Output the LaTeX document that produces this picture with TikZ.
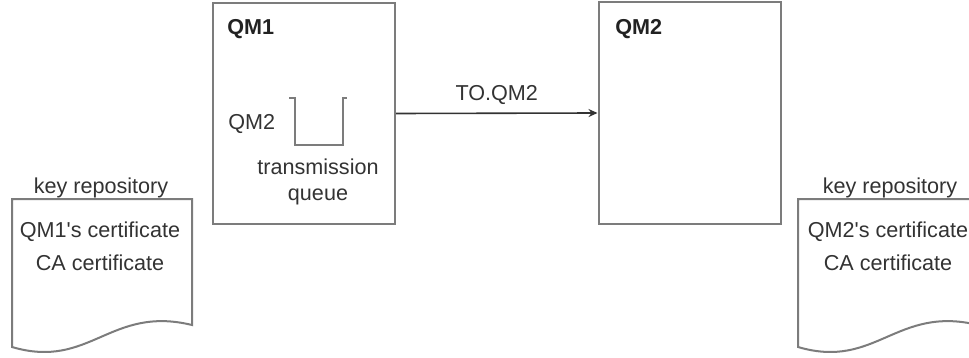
\documentclass[tikz,border=0pt]{standalone}
\usepackage{fontspec}
\setmainfont{Liberation Sans}
\usetikzlibrary{arrows.meta,positioning}
\definecolor{linegray}{HTML}{7C7C7C}
\definecolor{textgray}{HTML}{333333}
\definecolor{qmblack}{HTML}{222222}

\begin{document}
\begin{tikzpicture}[x=0.5pt, y=-0.5pt, font=\fontsize{10.8}{12.6}\selectfont,
  qmbox/.style={draw=linegray, line width=1pt, minimum width=91pt, minimum height=110.5pt, inner sep=0pt},
  lbl/.style={text=textgray, inner sep=0pt},
  keydoc/.style={draw=linegray, line width=1pt, fill=white}]
  \useasboundingbox (0,0) rectangle (969,358);

  % queue managers
  \node[qmbox] (qmone) at (304,113.5) {};
  \node[qmbox] (qmtwo) at (689.5,113) {};
  \node[lbl, text=qmblack, font=\fontsize{10.8}{12.6}\selectfont\bfseries, anchor=base west] (qmonename) at (227,35) {QM1};
  \node[lbl, text=qmblack, font=\fontsize{10.8}{12.6}\selectfont\bfseries, anchor=base west] (qmtwoname) at (615,35) {QM2};

  % transmission queue
  \draw[linegray, line width=1pt] (289,98) -- (295,98) -- (295,145) -- (343,145) -- (343,98) -- (347,98);
  \node[lbl, anchor=base west] (xmitq) at (228,130) {QM2};
  \node[lbl, anchor=base] (xmitone) at (318,175) {transmission};
  \node[lbl, anchor=base] (xmittwo) at (318,200) {queue};

  % channel
  \draw[-{Stealth[length=4.5pt, width=4pt]}, draw=textgray, fill=textgray, line width=0.8pt]
    (qmone.east) -- (qmtwo.west) node[lbl, midway, above=4pt] (chl) {TO.QM2};

  % key repositories
  \draw[keydoc] (12,347) -- (12,199) -- (192,199) -- (192,325)
    .. controls (110,305) and (90,370) .. (12,347) -- cycle;
  \node[lbl, anchor=base] (krone) at (101,193) {key repository};
  \node[lbl, anchor=base] (certone) at (100,237) {QM1\textquotesingle s certificate};
  \node[lbl, anchor=base] (caone) at (100,270) {CA certificate};

  \draw[keydoc] (798,347) -- (798,199) -- (978,199) -- (978,325)
    .. controls (896,305) and (876,370) .. (798,347) -- cycle;
  \node[lbl, anchor=base] (krtwo) at (890,193) {key repository};
  \node[lbl, anchor=base] (certtwo) at (888,237) {QM2\textquotesingle s certificate};
  \node[lbl, anchor=base] (catwo) at (888,270) {CA certificate};
\end{tikzpicture}
\end{document}
